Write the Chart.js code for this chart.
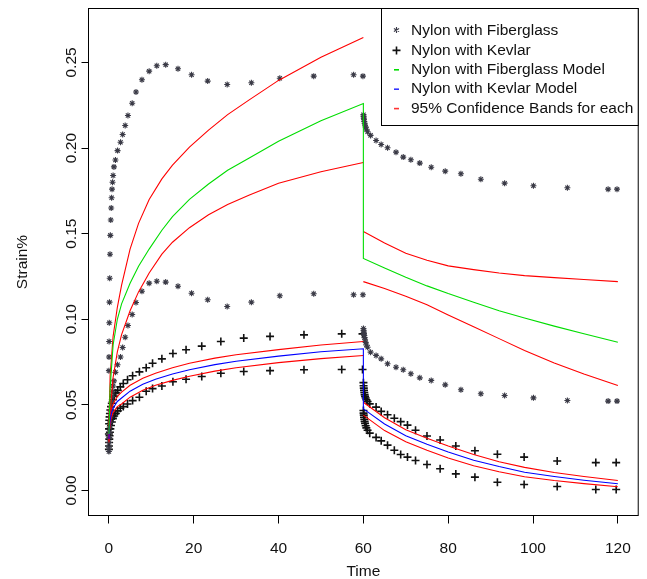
<!DOCTYPE html>
<html><head><meta charset="utf-8">
<script src="https://cdn.jsdelivr.net/npm/chart.js@4.4.1/dist/chart.umd.min.js"></script>
<style>html,body{margin:0;padding:0;background:#fff;overflow:hidden}</style>
</head><body>
<canvas id="c" width="647" height="579" style="display:block;width:647px;height:579px"></canvas>
<script>
// ---------- DATA ----------
const xTicks = [0, 20, 40, 60, 80, 100, 120];
const xTickLabels = ["0", "20", "40", "60", "80", "100", "120"];
const yTicks = [0, 0.05, 0.10, 0.15, 0.20, 0.25];
const yTickLabels = ["0.00", "0.05", "0.10", "0.15", "0.20", "0.25"];
const legendLabels = ["Nylon with Fiberglass", "Nylon with Kevlar", "Nylon with Fiberglass Model", "Nylon with Kevlar Model", "95% Confidence Bands for each"];

// Fiberglass specimens (stars): times, then strain of each specimen
const fiberglassTime = [0.01,0.03,0.06,0.1,0.15,0.2,0.27,0.35,0.45,0.55,0.65,0.75,0.87,1.0,1.2,1.55,2.05,2.75,3.25,3.85,4.5,5.5,6.4,7.8,9.5,11.3,13.4,16.3,19.5,23.3,27.9,33.6,40.3,48.3,57.7,59.9,
  60.02,60.05,60.1,60.15,60.22,60.3,60.4,60.55,60.7,61.0,61.7,63.0,64.2,65.7,67.7,69.4,71.2,73.3,76.0,79.3,83.0,87.7,93.3,100.1,108.1,117.7,119.8];
const fiberglassSpecimen1 = [0.070,0.078,0.087,0.098,0.110,0.124,0.138,0.149,0.158,0.165,0.171,0.176,0.180,0.184,0.189,0.193,0.1985,0.2034,0.2079,0.2132,0.219,0.2262,0.2327,0.2399,0.2449,0.2481,0.2487,0.2463,0.2428,0.2391,0.2371,0.2381,0.2408,0.2420,0.2428,0.2420,
  0.2195,0.2185,0.2175,0.2165,0.2155,0.2145,0.2135,0.2122,0.2110,0.2095,0.2074,0.2044,0.2021,0.2002,0.1976,0.1947,0.1932,0.1912,0.1888,0.1865,0.1850,0.1818,0.1795,0.1780,0.1768,0.1760,0.1760];
const fiberglassSpecimen2 = [0.0228,0.025,0.028,0.031,0.034,0.037,0.040,0.043,0.046,0.049,0.052,0.055,0.058,0.061,0.064,0.069,0.0734,0.078,0.0835,0.0895,0.0964,0.1028,0.1098,0.1164,0.1211,0.1222,0.1217,0.1193,0.1152,0.1114,0.1075,0.1100,0.1137,0.1149,0.1143,0.1143,
  0.0946,0.0935,0.0925,0.0915,0.0905,0.0893,0.0880,0.0865,0.0850,0.0837,0.0808,0.0789,0.0769,0.0740,0.0720,0.0705,0.0682,0.0658,0.0643,0.0617,0.0588,0.0565,0.0555,0.0541,0.0526,0.0522,0.0522];

// Kevlar specimens (plus signs)
const kevlarTime = [0.01,0.03,0.06,0.1,0.17,0.25,0.35,0.5,0.7,0.95,1.25,1.65,2.1,2.7,3.4,4.4,5.6,7.2,8.8,10.3,12.5,15.1,18.2,21.9,26.4,31.8,38.0,46.0,54.9,59.8,
  60.02,60.05,60.1,60.15,60.22,60.3,60.4,60.55,60.7,61.0,61.5,63.0,64.2,65.7,67.3,68.8,70.4,72.3,75.0,78.1,81.8,86.3,91.6,97.9,105.7,114.8,119.6];
const kevlarSpecimen1 = [0.033,0.036,0.039,0.041,0.043,0.045,0.047,0.049,0.051,0.053,0.055,0.057,0.0585,0.0605,0.0625,0.0647,0.0670,0.0693,0.0717,0.0743,0.0769,0.0800,0.0822,0.0843,0.0870,0.0890,0.0900,0.0909,0.0915,0.0915,
  0.0630,0.0612,0.0598,0.0585,0.0572,0.0560,0.0550,0.0540,0.0530,0.0520,0.0506,0.0487,0.0462,0.0442,0.0422,0.0402,0.0382,0.0352,0.0318,0.0295,0.0260,0.0232,0.0212,0.0195,0.0172,0.0163,0.0163];
const kevlarSpecimen2 = [0.024,0.026,0.028,0.030,0.032,0.034,0.036,0.038,0.040,0.042,0.0435,0.045,0.0465,0.048,0.049,0.0505,0.0525,0.0545,0.058,0.0595,0.061,0.0635,0.065,0.0666,0.0685,0.0695,0.0700,0.0705,0.0707,0.0707,
  0.0467,0.0452,0.0440,0.0428,0.0416,0.0404,0.0392,0.0378,0.0366,0.0352,0.0335,0.0310,0.0290,0.0265,0.0235,0.0210,0.0195,0.0175,0.0152,0.0127,0.0097,0.0078,0.0048,0.0035,0.0023,0.0006,0.0006];

// Fiberglass model and 95% bands
const fgLoadTime = [0.02,0.3,1,2,3,5,7,9.5,12.5,15,19,23.5,28,33,40,50,60];
const fgModelLoad = [0.033,0.060,0.085,0.100,0.109,0.121,0.131,0.141,0.152,0.160,0.170,0.179,0.187,0.194,0.204,0.216,0.226];
const fgUpperLoad = [0.038,0.067,0.090,0.107,0.120,0.141,0.156,0.170,0.182,0.190,0.2005,0.2105,0.2195,0.2280,0.2395,0.2530,0.2646];
const fgLowerLoad = [0.028,0.046,0.066,0.081,0.091,0.105,0.116,0.127,0.138,0.145,0.1535,0.1610,0.1670,0.1725,0.1795,0.1862,0.1916];
const fgRecTime = [60,65,70,75,80,86,92,98,105,112,120];
const fgModelRec = [0.1355,0.1300,0.1245,0.1195,0.1150,0.1100,0.1050,0.1008,0.0960,0.0915,0.0866];
const fgUpperRec = [0.1513,0.1445,0.1385,0.1345,0.1312,0.1290,0.1270,0.1255,0.1243,0.1232,0.1220];
const fgLowerRec = [0.1220,0.1180,0.1135,0.1085,0.1025,0.0957,0.0887,0.0817,0.0745,0.0680,0.0613];

// Kevlar model and 95% bands
const kvLoadTime = [0.02,0.1,0.3,0.6,1,2,3,5,8,11,15,19,25,30,40,50,60];
const kvModelLoad = [0.030,0.036,0.041,0.045,0.048,0.052,0.054,0.058,0.062,0.065,0.068,0.0705,0.0735,0.0755,0.0785,0.0810,0.0828];
const kvUpperLoad = [0.031,0.038,0.0435,0.0475,0.0505,0.055,0.0575,0.0615,0.0655,0.0685,0.0717,0.0743,0.0773,0.0793,0.0823,0.0850,0.0870];
const kvLowerLoad = [0.029,0.034,0.0385,0.0425,0.0455,0.049,0.0505,0.0545,0.0585,0.0615,0.0643,0.0667,0.0697,0.0717,0.0747,0.0770,0.0788];
const kvRecTime = [60,65,70,75,80,86,92,98,105,112,120];
const kvModelRec = [0.0477,0.0388,0.0320,0.0270,0.0225,0.0177,0.0140,0.0107,0.0082,0.0060,0.0039];
const kvUpperRec = [0.0515,0.0425,0.0355,0.0305,0.0260,0.0210,0.0168,0.0135,0.0105,0.0082,0.0058];
const kvLowerRec = [0.0440,0.0350,0.0285,0.0235,0.0190,0.0145,0.0110,0.0080,0.0058,0.0040,0.0022];

// ---------- CHART ----------
const FONT = "'Liberation Sans', Arial, sans-serif";
const FS = 15.5;
const pts = (xs, ys) => xs.map((x, i) => ({x: x, y: ys[i]}));

function pointSet(label, xs, ys, style, color, r, w) {
  return {label, data: pts(xs, ys), showLine: false, pointStyle: style, pointRadius: r,
    borderColor: color, backgroundColor: color, pointBorderWidth: w, borderWidth: w, order: 1};
}
function lineSet(label, xs, ys, color) {
  return {label, data: pts(xs, ys), showLine: true, pointRadius: 0, borderColor: color,
    backgroundColor: color, borderWidth: 1.1, tension: 0, fill: false, order: 0};
}

const datasets = [
  pointSet(legendLabels[0], fiberglassTime, fiberglassSpecimen1, 'star', '#3a3a46', 3, 1.1),
  pointSet(legendLabels[0], fiberglassTime, fiberglassSpecimen2, 'star', '#3a3a46', 3, 1.1),
  pointSet(legendLabels[1], kevlarTime, kevlarSpecimen1, 'cross', '#111111', 4, 1.6),
  pointSet(legendLabels[1], kevlarTime, kevlarSpecimen2, 'cross', '#111111', 4, 1.6),
  lineSet(legendLabels[2], fgLoadTime.concat(fgRecTime), fgModelLoad.concat(fgModelRec), '#00dd00'),
  lineSet(legendLabels[3], kvLoadTime.concat(kvRecTime), kvModelLoad.concat(kvModelRec), '#0000ff'),
  lineSet(legendLabels[4], fgLoadTime, fgUpperLoad, '#ff0000'),
  lineSet(legendLabels[4], fgLoadTime, fgLowerLoad, '#ff0000'),
  lineSet(legendLabels[4], fgRecTime, fgUpperRec, '#ff0000'),
  lineSet(legendLabels[4], fgRecTime, fgLowerRec, '#ff0000'),
  lineSet(legendLabels[4], kvLoadTime, kvUpperLoad, '#ff0000'),
  lineSet(legendLabels[4], kvLoadTime, kvLowerLoad, '#ff0000'),
  lineSet(legendLabels[4], kvRecTime, kvUpperRec, '#ff0000'),
  lineSet(legendLabels[4], kvRecTime, kvLowerRec, '#ff0000')
];

const framePlugin = {
  id: 'frame',
  afterDraw(chart) {
    const a = chart.chartArea, ctx = chart.ctx;
    ctx.save();
    ctx.strokeStyle = '#000'; ctx.lineWidth = 1;
    ctx.strokeRect(a.left, a.top, a.right - a.left, a.bottom - a.top);
    ctx.restore();
  }
};

const legendPlugin = {
  id: 'rLegend',
  afterDraw(chart) {
    const a = chart.chartArea, ctx = chart.ctx;
    const left = 381.5, top = a.top, right = a.right, bottom = 125.5;
    ctx.save();
    ctx.fillStyle = '#fff';
    ctx.fillRect(left, top, right - left, bottom - top);
    ctx.strokeStyle = '#000'; ctx.lineWidth = 1;
    ctx.strokeRect(left, top, right - left, bottom - top);
    ctx.font = FS + 'px ' + FONT;
    ctx.textBaseline = 'middle'; ctx.textAlign = 'left';
    const sx = 396.5;
    legendLabels.forEach((t, i) => {
      const y = 31 + 19.4 * i;
      ctx.fillStyle = '#111';
      ctx.fillText(t, 411, y);
      ctx.beginPath();
      if (i === 0) {
        ctx.strokeStyle = '#3a3a48'; ctx.lineWidth = 1.1;
        for (let k = 0; k < 3; k++) {
          const ang = Math.PI / 2 + k * Math.PI / 3;
          ctx.moveTo(sx + 3 * Math.cos(ang), y - 1 + 3 * Math.sin(ang));
          ctx.lineTo(sx - 3 * Math.cos(ang), y - 1 - 3 * Math.sin(ang));
        }
      } else if (i === 1) {
        ctx.strokeStyle = '#111'; ctx.lineWidth = 1.6;
        ctx.moveTo(sx - 4, y); ctx.lineTo(sx + 4, y);
        ctx.moveTo(sx, y - 4); ctx.lineTo(sx, y + 4);
      } else {
        ctx.strokeStyle = ['#00dd00', '#3333ff', '#ff3333'][i - 2]; ctx.lineWidth = 1.6;
        ctx.moveTo(sx - 2.5, y); ctx.lineTo(sx + 2.5, y);
      }
      ctx.stroke();
    });
    ctx.restore();
  }
};

new Chart(document.getElementById('c'), {
  type: 'scatter',
  data: {datasets},
  plugins: [framePlugin, legendPlugin],
  options: {
    responsive: false, animation: false, devicePixelRatio: 1, events: [],
    layout: {padding: {left: 0, right: 1.5, top: 8.5, bottom: 0}},
    plugins: {legend: {display: false}, tooltip: {enabled: false}, title: {display: false}},
    scales: {
      x: {
        type: 'linear', min: -4.8, max: 124.8,
        afterBuildTicks: s => { s.ticks = xTicks.map(v => ({value: v})); },
        afterFit: s => { s.height = 63.5; },
        grid: {drawOnChartArea: false, drawTicks: true, tickLength: 8, color: '#000', lineWidth: 1},
        border: {display: false},
        ticks: {callback: (v, i) => xTickLabels[i], font: {family: FONT, size: FS}, color: '#111', padding: 16, maxRotation: 0, minRotation: 0, autoSkip: false},
        title: {display: true, text: 'Time', font: {family: FONT, size: FS}, color: '#111', padding: {top: 0, bottom: -2}}
      },
      y: {
        type: 'linear', min: -0.0146, max: 0.2815,
        afterBuildTicks: s => { s.ticks = yTicks.map(v => ({value: v})); },
        afterFit: s => { s.width = 88.5; },
        grid: {drawOnChartArea: false, drawTicks: true, tickLength: 7, color: '#000', lineWidth: 1},
        border: {display: false},
        ticks: {callback: (v, i) => yTickLabels[i], font: {family: FONT, size: FS}, color: '#111', padding: -5.5, minRotation: 90, maxRotation: 90, crossAlign: 'center', autoSkip: false},
        title: {display: true, text: 'Strain%', font: {family: FONT, size: FS}, color: '#111', padding: {top: 13.5, bottom: 0}}
      }
    }
  }
});
</script>
</body></html>
